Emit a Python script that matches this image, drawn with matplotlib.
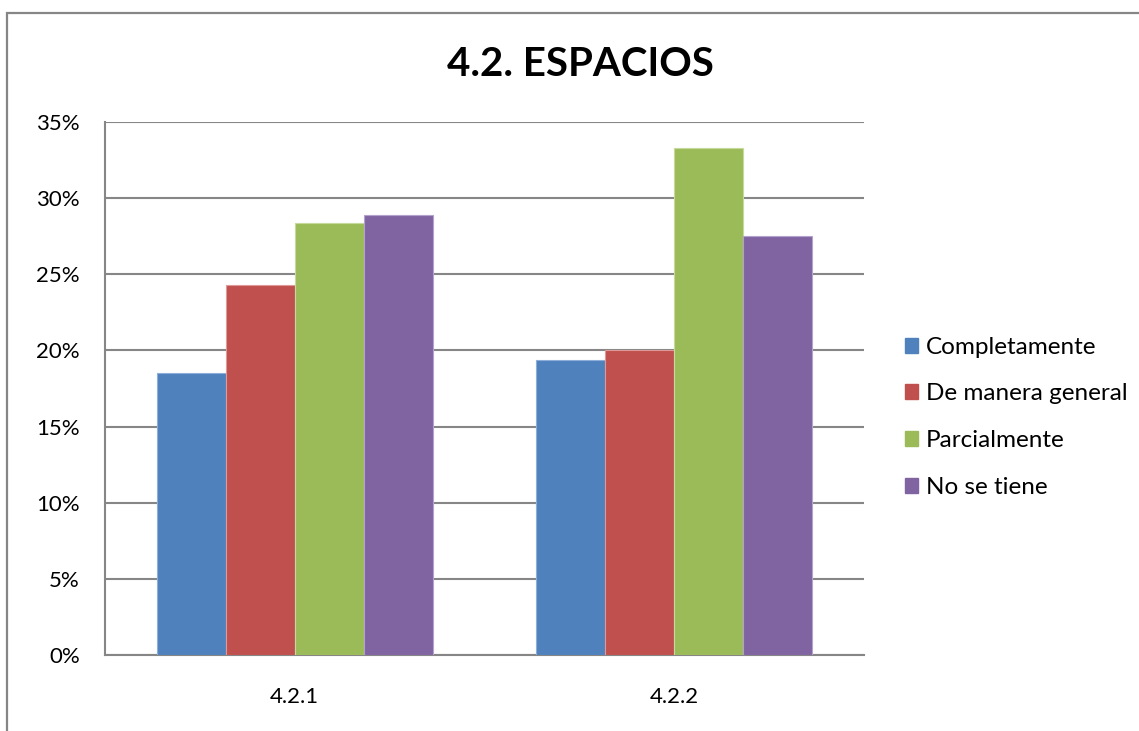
import matplotlib
matplotlib.use("Agg")
import matplotlib.pyplot as plt
import numpy as np
from matplotlib.patches import Rectangle, Patch
from matplotlib.ticker import FuncFormatter, MultipleLocator

categories = ["4.2.1", "4.2.2"]
series_names = ["Completamente", "De manera general", "Parcialmente", "No se tiene"]
completamente = [18.5, 19.4]
de_manera_general = [24.3, 20.0]
parcialmente = [28.35, 33.3]
no_se_tiene = [28.9, 27.5]
title = "4.2. ESPACIOS"

series_values = [completamente, de_manera_general, parcialmente, no_se_tiene]
colors = ["#4F81BD", "#C0504D", "#9BBB59", "#8064A2"]
edges = ["#8EAEDA", "#DE9A98", "#C6DA9E", "#B3A2CC"]

plt.rcParams['font.family'] = ['Lato', 'DejaVu Sans']

W, H = 1139, 731
fig = plt.figure(figsize=(W / 100, H / 100), dpi=100)
fig.patch.set_facecolor("white")

# outer chart border
fig.add_artist(Rectangle((7 / W, -0.05), 1.2, 1 - 13 / H + 0.05,
                         transform=fig.transFigure, fill=False,
                         edgecolor="#868686", linewidth=1.6))

ax = fig.add_axes([105 / W, 1 - 655 / H, (864 - 105) / W, (655 - 122) / H])
x = np.arange(len(categories))
w = 1 / 5.5
for i, (vals, c, e, name) in enumerate(zip(series_values, colors, edges, series_names)):
    ax.bar(x + (i - 1.5) * w, vals, width=w, color=c, edgecolor=e,
           linewidth=0.8, label=name, zorder=3)

ax.set_xlim(-0.5, len(categories) - 0.5)
ax.set_ylim(0, 35)
ax.yaxis.set_major_locator(MultipleLocator(5))
ax.yaxis.set_major_formatter(FuncFormatter(lambda v, p: f"{int(round(v))}%"))
ax.set_xticks(x)
ax.set_xticklabels(categories)
ax.grid(axis="y", color="#868686", linewidth=1.5, zorder=0)
ax.set_axisbelow(True)
for s in ["top", "right"]:
    ax.spines[s].set_visible(False)
for s in ["left", "bottom"]:
    ax.spines[s].set_color("#868686")
    ax.spines[s].set_linewidth(1.5)
ax.tick_params(axis="both", length=0, labelsize=16, colors="black")
ax.tick_params(axis="y", pad=18)
ax.tick_params(axis="x", pad=23)

handles = [Patch(facecolor=c, edgecolor=c) for c in colors]
fig.legend(handles, series_names, loc="upper left",
           bbox_to_anchor=(895 / W, 1 - 327 / H), frameon=False,
           fontsize=17.5, handlelength=0.56, handleheight=0.56,
           handletextpad=0.3, labelspacing=1.06, borderaxespad=0)

fig.text(580 / W, 1 - 65 / H, title, ha="center", va="center",
         fontsize=29, fontweight="bold")

fig.savefig("out.png", dpi=100)
